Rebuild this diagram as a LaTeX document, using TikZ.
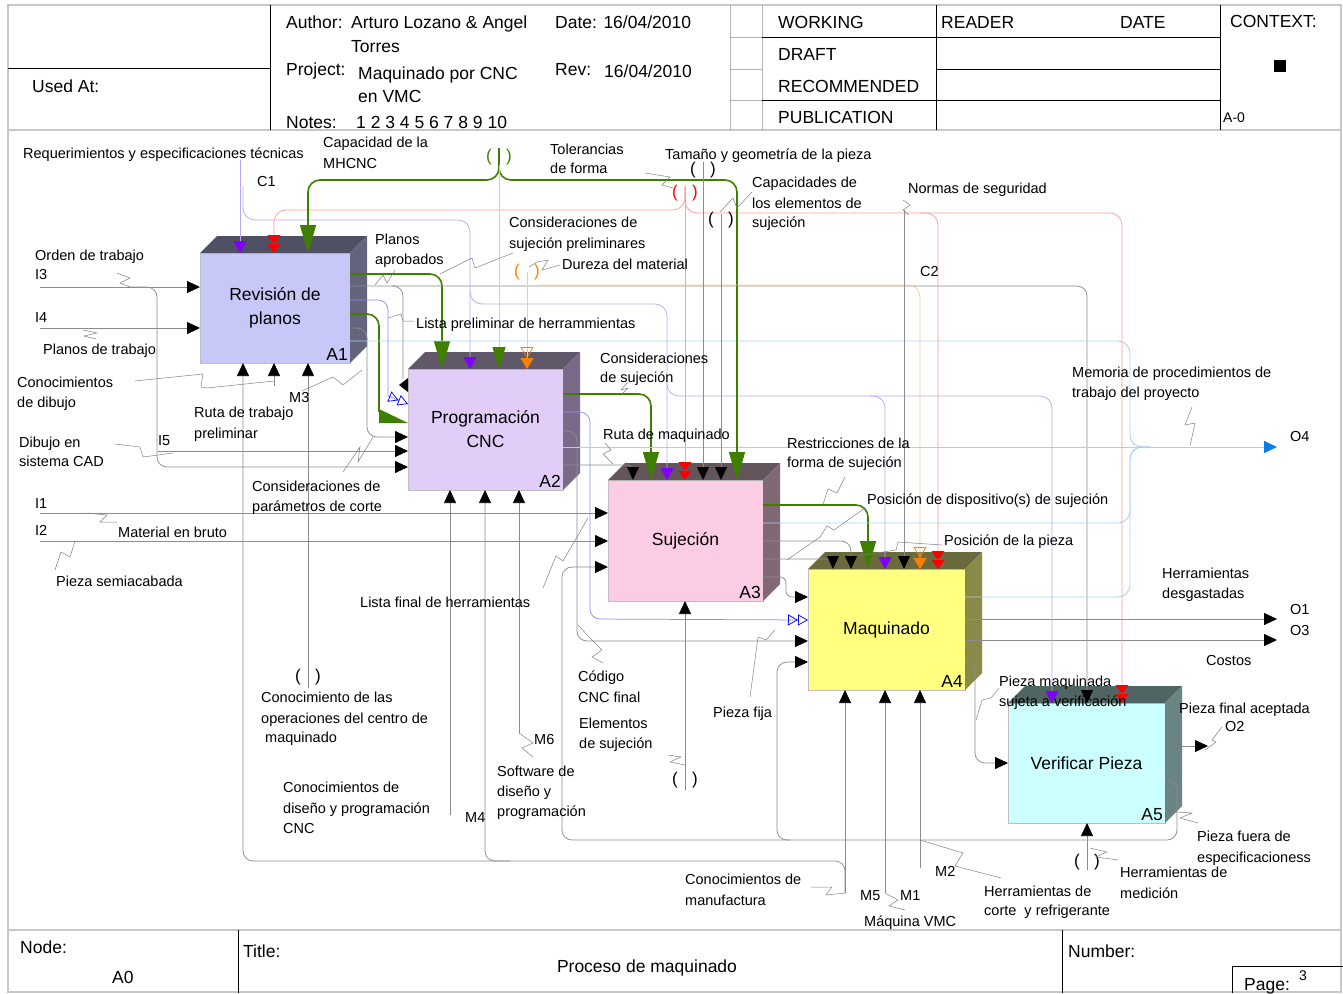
\documentclass[tikz,border=0pt]{standalone}
\usepackage{fontspec}
\setmainfont{Liberation Sans}
\usetikzlibrary{arrows.meta,calc}

\definecolor{gline}{HTML}{8C8C8C}
\definecolor{lav}{HTML}{BFA6F5}
\definecolor{purp}{HTML}{8000FF}
\definecolor{pinkl}{HTML}{FF9C9C}
\definecolor{redA}{HTML}{FF0000}
\definecolor{grn}{HTML}{3F7F00}
\definecolor{grnl}{HTML}{C9D6BC}
\definecolor{orl}{HTML}{FFC890}
\definecolor{orA}{HTML}{FF8000}
\definecolor{blu}{HTML}{8C8CFF}
\definecolor{bluA}{HTML}{0000FF}
\definecolor{lblu}{HTML}{A9D0F5}
\definecolor{oblue}{HTML}{0A7CF0}
\definecolor{frm}{HTML}{C8C8C8}
% box faces: front / top / side
\definecolor{fa}{HTML}{C8C8F8}\definecolor{ta}{HTML}{505064}\definecolor{sa}{HTML}{64647C}
\definecolor{fb}{HTML}{E2CCF8}\definecolor{tbx}{HTML}{605868}\definecolor{sb}{HTML}{7A6A88}
\definecolor{fc}{HTML}{FCCCE4}\definecolor{tc}{HTML}{64545C}\definecolor{sc}{HTML}{806874}
\definecolor{fd}{HTML}{FFFF80}\definecolor{td}{HTML}{6A6A3C}\definecolor{sd}{HTML}{8A8A48}
\definecolor{fe}{HTML}{CCFFFF}\definecolor{te}{HTML}{506464}\definecolor{se}{HTML}{6A8484}

\tikzset{
  lbl/.style={anchor=base west, inner sep=0pt, yshift=-5.2pt, font=\fontsize{14.5}{16}\selectfont},
  hdr/.style={anchor=base west, inner sep=0pt, yshift=-6.3pt, font=\fontsize{17.5}{20}\selectfont},
  boxtxt/.style={font=\fontsize{17.5}{24}\selectfont, align=center, inner sep=0pt},
  face/.style={draw=black!25, line width=0.5pt, inner sep=0pt, outer sep=0pt},
  tun/.style={inner sep=0pt, font=\fontsize{17}{17}\selectfont},
  gl/.style={draw=gline, line width=0.75pt, rounded corners=10pt},
  lv/.style={draw=lav, line width=0.75pt, rounded corners=12pt},
  pk/.style={draw=pinkl, line width=0.75pt, rounded corners=12pt},
  og/.style={draw=orl, line width=0.75pt, rounded corners=12pt},
  bl/.style={draw=blu, line width=0.75pt, rounded corners=10pt},
  lb/.style={draw=lblu, line width=0.9pt, rounded corners=12pt},
  gr/.style={draw=grn, line width=1.6pt, rounded corners=12pt},
  ld/.style={draw=black!50, line width=0.5pt},
  tb/.style={-{Triangle[length=13pt,width=12pt,black]}},
  tbs/.style={{Triangle[length=13pt,width=12pt,black]}-},
  tp/.style={-{Triangle[length=12pt,width=13pt,purp]}},
  tr/.style={-{Triangle[length=9pt,width=13pt,redA]Triangle[length=9pt,width=13pt,redA]}},
  tg/.style={-{Triangle[length=28pt,width=16pt,grn]}},
  tgs/.style={-{Triangle[length=22pt,width=13pt,grn]}},
  tor/.style={-{Triangle[open,length=11pt,width=13pt,orA]Triangle[length=11pt,width=13pt,orA]}},
  tbl/.style={-{Triangle[open,length=10pt,width=11pt,bluA]Triangle[open,length=10pt,width=11pt,bluA]}},
  tob/.style={-{Triangle[length=13pt,width=12pt,oblue]}},
}

% IDEF0 activity box with a shaded top and side
\newcommand{\IdefBox}[9]{%
  \node[face, fill=#6, minimum width=#4, minimum height=#5] (#1) at (#2,#3) {};
  \fill[#7] (#1.north west) -- ++(17,-17) -- ++(#4,0) -- (#1.north east) -- cycle;
  \fill[#8] (#1.north east) -- ++(17,-17) -- ++(0,#5) -- (#1.south east) -- cycle;
  \node[boxtxt] (#1t) at (#1) {#9};
  \node[anchor=south east, inner sep=2pt, font=\fontsize{17.5}{20}\selectfont] (#1n) at (#1.south east) {#1};
}
% tunnelled arrow end "( )"
\newcommand{\Tun}[4]{%
  \node[tun, text=#4] (#1l) at (#2-10,#3) {(};
  \node[tun, text=#4] (#1r) at (#2+10,#3) {)};
}
\newcommand{\Lbl}[4]{\node[lbl] (#1) at (#2,#3) {#4};}
\newcommand{\Hdr}[4]{\node[hdr] (#1) at (#2,#3) {#4};}
\newcommand{\TriD}[3][black]{\fill[#1] (#2-6,#3-13) -- (#2+6,#3-13) -- (#2,#3) -- cycle;}

\begin{document}
\begin{tikzpicture}[x=1pt,y=-1pt]
\useasboundingbox (0,0) rectangle (1343,993);

% ---------- frame ----------
\draw[frm, line width=1.2pt] (8,5) rectangle (1341,992);
\draw[frm, line width=2pt] (8,130) -- (1341,130);
\draw[frm, line width=2pt] (8,930) -- (1341,930);

% ---------- header ----------
\draw[black, line width=0.8pt] (270,5) -- (270,130);
\draw[black, line width=0.8pt] (8,68) -- (270,68);
\draw[black, line width=0.8pt] (936,5) -- (936,130);
\draw[black, line width=0.8pt] (1220,5) -- (1220,130);
\draw[gray!60, line width=0.8pt] (730,5) -- (730,130) (762,5) -- (762,130);
\draw[gray!60, line width=0.8pt] (730,37) -- (762,37) (730,69) -- (762,69) (730,100) -- (762,100);
\draw[black, line width=0.8pt] (762,37) -- (1220,37) (936,69) -- (1220,69) (762,100) -- (1220,100);

\Hdr{usedat}{32}{86}{Used At:}
\Hdr{author}{286}{22}{Author:}
\Hdr{authors}{351}{22}{Arturo Lozano \& Angel}
\Hdr{authors2}{351}{46}{Torres}
\Hdr{project}{286}{69}{Project:}
\Hdr{projname}{358}{73}{Maquinado por CNC}
\Hdr{projname2}{358}{96}{en VMC}
\Hdr{notes}{286}{122}{Notes:}
\Hdr{notenums}{356}{122}{1 2 3 4 5 6 7 8 9 10}
\Hdr{date}{555}{22}{Date: 16/04/2010}
\Hdr{rev}{555}{69}{Rev:}
\Hdr{revdate}{604}{71}{16/04/2010}
\Hdr{working}{778}{22}{WORKING}
\Hdr{draft}{778}{54}{DRAFT}
\Hdr{recommended}{778}{86}{RECOMMENDED}
\Hdr{publication}{778}{117}{PUBLICATION}
\Hdr{reader}{941}{22}{READER}
\Hdr{datecol}{1120}{22}{DATE}
\Hdr{context}{1230}{21}{CONTEXT:}
\fill[black] (1274,60) rectangle (1286,72);
\node[lbl, font=\fontsize{14}{16}\selectfont] (ctxnode) at (1223,117) {A-0};

% ---------- footer ----------
\draw[black, line width=0.8pt] (238,930) -- (238,993);
\draw[black, line width=0.8pt] (1062,930) -- (1062,993);
\draw[black, line width=0.8pt] (1232,993) -- (1232,966) -- (1343,966);
\Hdr{nodelbl}{20}{947}{Node:}
\Hdr{nodeval}{112}{977}{A0}
\Hdr{titlelbl}{243}{951}{Title:}
\node[font=\fontsize{17.5}{20}\selectfont, inner sep=0pt] (titleval) at (647,968) {Proceso de maquinado};
\Hdr{numberlbl}{1068}{951}{Number:}
\Hdr{pagelbl}{1244}{984}{Page:}
\node[lbl, font=\fontsize{14}{16}\selectfont] (pagenum) at (1299,975) {3};

% ---------- activity boxes ----------
\IdefBox{A1}{275}{308}{150}{110}{fa}{ta}{sa}{Revisión de\\planos}
\IdefBox{A2}{485.5}{429.5}{155}{121}{fb}{tbx}{sb}{Programación\\CNC}
\IdefBox{A3}{685.5}{540.5}{155}{121}{fc}{tc}{sc}{Sujeción}
\IdefBox{A4}{886.5}{629.5}{157}{121}{fd}{td}{sd}{Maquinado}
\IdefBox{A5}{1086.5}{763}{157}{120}{fe}{te}{se}{Verificar Pieza}

% ---------- inputs ----------
\draw[gl,tb] (40,287) -- (A1.west |- 0,287);
\draw[gl,tb] (128,287) -- (157,287) -- (157,467) -- (A2.west |- 0,467);
\draw[gl,tb] (40,328) -- (A1.west |- 0,328);
\draw[gl,tb] (158,451) -- (A2.west |- 0,451);
\draw[gl,tb] (40,513) -- (A3.west |- 0,513);
\draw[gl,tb] (40,541) -- (A3.west |- 0,541);

% ---------- outputs of A1 ----------
\draw[gr,tg] (A1.east |- 0,274) -- (442,274) -- (A2.north -| 442,0);
\draw[gl,tb] (A1.east |- 0,286) -- (1087,286) -- (A5.north -| 1087,0);
\draw[gl] (392,286) -- (403,286) -- (403,379);
\fill[black] (399,385) -- (408,378) -- (408,392) -- cycle;
\draw[bl] (A1.east |- 0,300) -- (388,300) -- (388,396);
\draw[bl,tbl,sharp corners] (388,396) -- (A2.west |- 0,404);
\draw[gr] (A1.east |- 0,314) -- (379,314) -- (379,412);
\fill[grn] (379,409) -- (A2.west |- 0,423) -- (379,423) -- cycle;
\draw[gl,tb] (A1.east |- 0,328) -- (367,328) -- (367,437) -- (A2.west |- 0,437);
\draw[lb] (A1.east |- 0,341) -- (1130,341) -- (1130,447) -- (1150,447);

% ---------- outputs of A2 ----------
\draw[gr,tg] (A2.east |- 0,394) -- (651,394) -- (A3.north -| 651,0);
\draw[bl,tbl] (A2.east |- 0,412) -- (590,412) -- (590,619) -- (A4.west |- 0,620);
\draw[gl,tb] (A2.east |- 0,431) -- (577,431) -- (577,641) -- (A4.west |- 0,641);
\draw[lb,tob] (A2.east |- 0,447) -- (1277,447);
\draw[gl,rounded corners=6pt] (A2.east |- 0,465) -- (633,465) -- (633,470);
\TriD{633}{480}

% ---------- outputs of A3 ----------
\draw[gr,tg] (A3.east |- 0,505) -- (868,505) -- (A4.north -| 868,0);
\draw[lb] (A3.east |- 0,523) -- (1130,523) -- (1130,447) -- (1150,447);
\draw[gl,tb] (A3.east |- 0,541) -- (851,541) -- (A4.north -| 851,0);
\draw[gl,rounded corners=4pt] (A3.east |- 0,559) -- (833,559) -- (833,561);
\TriD{833}{569}
\draw[gl,tb,rounded corners=6pt] (A3.east |- 0,577) -- (786,577) -- (786,597) -- (A4.west |- 0,597);

% ---------- outputs of A4 ----------
\draw[lb] (A4.east |- 0,597) -- (1130,597) -- (1130,447) -- (1150,447);
\draw[gl,tb] (A4.east |- 0,619) -- (1277,619);
\draw[gl,tb] (A4.east |- 0,640) -- (1277,640);
\draw[gl,tb] (A4.east |- 0,661) -- (975,661) -- (975,763) -- (A5.west |- 0,763);

% ---------- outputs of A5 ----------
\draw[gl,tb] ($(A5.east |- 0,746)+(17,0)$) -- (1208,746);
\draw[gl,tb] (A5.east |- 0,780) -- (1177,780) -- (1177,840) -- (562,840) -- (562,567) -- (A3.west |- 0,567);
\draw[gl,tb] (790,840) -- (777,840) -- (777,662) -- (A4.west |- 0,662);

% ---------- controls ----------
\draw[lv,tp] (240,160) -- (A1.north -| 240,0);
\draw[lv,tp] (243,186) -- (243,220) -- (470,220) -- (A2.north -| 470,0);
\draw[lv,tp] (470,290) -- (470,304) -- (667,304) -- (A3.north -| 667,0);
\draw[lv,tp] (667,382) -- (667,396) -- (1052,396) -- (A5.north -| 1052,0);
\draw[lv,tp] (870,396) -- (885,396) -- (A4.north -| 885,0);

\draw[pk,tr] (685,186) -- (685,210) -- (274,210) -- (A1.north -| 274,0);
\draw[pk,tr] (685,186) -- (A3.north -| 685,0);
\draw[pk,tr] (685,186) -- (685,213) -- (938,213) -- (A4.north -| 938,0);
\draw[pk,tr] (920,213) -- (1122,213) -- (A5.north -| 1122,0);

\draw[gr,tg] (499,148) -- (499,180) -- (308,180) -- (A1.north -| 308,0);
\draw[gr,tg] (499,148) -- (499,180) -- (737,180) -- (A3.north -| 737,0);
\draw[draw=grnl, line width=0.8pt, tgs] (499,165) -- (A2.north -| 499,0);

\draw[og,tor] (527,272) -- (A2.north -| 527,0);
\draw[og,tor] (538,285) -- (920,285) -- (A4.north -| 920,0);

\draw[gl,tb] (703,162) -- (A3.north -| 703,0);
\draw[gl,tb] (721,214) -- (A3.north -| 721,0);
\draw[gl,tb] (904,210) -- (A4.north -| 904,0);

% ---------- mechanisms ----------
\draw[gl,tbs] (A1.south -| 243,0) -- (243,861) -- (845,861) -- (845,893);
\draw[gl,tb] (845,893) -- (A4.south -| 845,0);
\draw[gl,tb] (510,861) -- (485,861) -- (A2.south -| 485,0);
\draw[gl,tb] (274,386) -- (A1.south -| 274,0);
\draw[gl,tb] (308,688) -- (A1.south -| 308,0);
\draw[gl,tb] (450,815) -- (A2.south -| 450,0);
\draw[gl,tb] (519,733) -- (A2.south -| 519,0);
\draw[gl,tb] (685,790) -- (A3.south -| 685,0);
\draw[gl,tb] (885,893) -- (A4.south -| 885,0);
\draw[gl,tb] (920,868) -- (A4.south -| 920,0);
\draw[gl,tb] (1087,870) -- (A5.south -| 1087,0);

% ---------- tunnels ----------
\Tun{tgreen}{499}{157}{grn}
\Tun{tred}{685}{193}{redA}
\Tun{tsize}{703}{170}{black}
\Tun{tcap}{721}{220}{black}
\Tun{torange}{527}{272}{orA}
\Tun{tops}{308}{677}{black}
\Tun{telem}{685}{780}{black}
\Tun{tmeas}{1087}{862}{black}

% ---------- label leaders ----------
\draw[ld] (117,273) -- (130,278) -- (120,283) -- (130,287);
\draw[ld] (83,330) -- (97,333) -- (84,336) -- (96,339);
\draw[ld] (135,381) -- (203,374) -- (201,387) -- (207,388) -- (274,381);
\draw[ld] (302,391) -- (333,377) -- (343,385) -- (362,370);
\draw[ld] (375,285) -- (383,275) -- (387,283) -- (395,270);
\draw[ld] (414,321) -- (403,321) -- (401,314) -- (388,318);
\draw[ld] (513,253) -- (475,268) -- (472,258) -- (440,274);
\draw[ld] (560,265) -- (542,270) -- (548,260) -- (537,262) -- (529,267);
\draw[ld] (645,173) -- (670,177) -- (662,185) -- (673,188);
\draw[ld] (752,192) -- (737,208) -- (733,198) -- (720,212);
\draw[ld] (903,200) -- (910,205) -- (903,210) -- (909,215);
\draw[ld] (1192,407) -- (1185,425) -- (1195,423) -- (1190,446);
\draw[ld] (628,382) -- (621,390) -- (628,388) -- (622,394);
\draw[ld] (605,443) -- (611,450) -- (603,454) -- (613,464);
\draw[ld] (845,477) -- (837,493) -- (828,489) -- (823,504);
\draw[ld] (865,508) -- (834,530) -- (827,526) -- (820,537) -- (787,560);
\draw[ld] (942,545) -- (898,542) -- (896,550) -- (857,556);
\draw[ld] (543,588) -- (556,556) -- (563,561) -- (588,518);
\draw[ld] (343,472) -- (360,447) -- (358,462) -- (373,437);
\draw[ld] (115,444) -- (140,447) -- (143,457) -- (173,453);
\draw[ld] (87,513) -- (107,515) -- (100,522) -- (117,522);
\draw[ld] (75,541) -- (70,557) -- (61,552) -- (55,570);
\draw[ld] (578,625) -- (590,638) -- (602,650) -- (592,657) -- (603,663);
\draw[ld] (519,733) -- (533,743) -- (522,748) -- (533,757);
\draw[ld] (668,755) -- (681,757) -- (670,762) -- (685,765);
\draw[ld] (750,697) -- (758,637) -- (766,640) -- (775,630);
\draw[ld] (976,720) -- (982,700) -- (991,698) -- (999,688);
\draw[ld] (1222,727) -- (1212,740) -- (1216,742) -- (1205,750);
\draw[ld] (1198,823) -- (1180,818) -- (1192,813) -- (1176,812);
\draw[ld] (1090,848) -- (1107,852) -- (1096,857) -- (1118,860);
\draw[ld] (920,840) -- (963,853) -- (955,866) -- (1001,878);
\draw[ld] (885,893) -- (898,900) -- (889,906) -- (905,910);
\draw[ld] (811,887) -- (832,887) -- (826,895) -- (845,893);

% ---------- labels ----------
\Lbl{l1}{23}{153}{Requerimientos y especificaciones técnicas}
\Lbl{l2}{323}{142}{Capacidad de la}
\Lbl{l3}{323}{163}{MHCNC}
\Lbl{l4}{257}{181}{C1}
\Lbl{l5}{550}{149}{Tolerancias}
\Lbl{l6}{550}{168}{de forma}
\Lbl{l7}{665}{154}{Tamaño y geometría de la pieza}
\Lbl{l8}{752}{182}{Capacidades de}
\Lbl{l9}{752}{203}{los elementos de}
\Lbl{l10}{752}{222}{sujeción}
\Lbl{l11}{908}{188}{Normas de seguridad}
\Lbl{l12}{509}{222}{Consideraciones de}
\Lbl{l13}{509}{243}{sujeción preliminares}
\Lbl{l14}{562}{264}{Dureza del material}
\Lbl{l15}{920}{271}{C2}
\Lbl{l16}{35}{255}{Orden de trabajo}
\Lbl{l17}{35}{274}{I3}
\Lbl{l18}{375}{239}{Planos}
\Lbl{l19}{375}{259}{aprobados}
\Lbl{l20}{35}{317}{I4}
\Lbl{l21}{416}{323}{Lista preliminar de herrammientas}
\Lbl{l22}{43}{349}{Planos de trabajo}
\Lbl{l23}{17}{382}{Conocimientos}
\Lbl{l24}{17}{402}{de dibujo}
\Lbl{l25}{289}{397}{M3}
\Lbl{l26}{194}{412}{Ruta de trabajo}
\Lbl{l27}{194}{433}{preliminar}
\Lbl{l28}{600}{358}{Consideraciones}
\Lbl{l29}{600}{377}{de sujeción}
\Lbl{l30}{1072}{372}{Memoria de procedimientos de}
\Lbl{l31}{1072}{392}{trabajo del proyecto}
\Lbl{l32}{19}{442}{Dibujo en}
\Lbl{l33}{19}{461}{sistema CAD}
\Lbl{l34}{158}{440}{I5}
\Lbl{l35}{603}{434}{Ruta de maquinado}
\Lbl{l36}{787}{443}{Restricciones de la}
\Lbl{l37}{787}{462}{forma de sujeción}
\Lbl{l38}{1290}{436}{O4}
\Lbl{l39}{252}{486}{Consideraciones de}
\Lbl{l40}{252}{506}{parámetros de corte}
\Lbl{l41}{35}{503}{I1}
\Lbl{l42}{867}{499}{Posición de dispositivo(s) de sujeción}
\Lbl{l43}{35}{530}{I2}
\Lbl{l44}{118}{532}{Material en bruto}
\Lbl{l45}{944}{540}{Posición de la pieza}
\Lbl{l46}{56}{581}{Pieza semiacabada}
\Lbl{l47}{1162}{573}{Herramientas}
\Lbl{l48}{1162}{593}{desgastadas}
\Lbl{l49}{360}{602}{Lista final de herramientas}
\Lbl{l50}{1290}{609}{O1}
\Lbl{l51}{1290}{630}{O3}
\Lbl{l52}{1206}{660}{Costos}
\Lbl{l53}{578}{676}{Código}
\Lbl{l54}{578}{697}{CNC final}
\Lbl{l55}{999}{681}{Pieza maquinada}
\Lbl{l56}{999}{701}{sujeta a verificación}
\Lbl{l57}{261}{697}{Conocimiento de las}
\Lbl{l58}{261}{718}{operaciones del centro de}
\Lbl{l59}{265}{737}{maquinado}
\Lbl{l60}{579}{723}{Elementos}
\Lbl{l61}{579}{743}{de sujeción}
\Lbl{l62}{713}{712}{Pieza fija}
\Lbl{l63}{1179}{708}{Pieza final aceptada}
\Lbl{l64}{1225}{726}{O2}
\Lbl{l65}{534}{739}{M6}
\Lbl{l66}{497}{771}{Software de}
\Lbl{l67}{497}{791}{diseño y}
\Lbl{l68}{497}{811}{programación}
\Lbl{l69}{283}{787}{Conocimientos de}
\Lbl{l70}{283}{808}{diseño y programación}
\Lbl{l71}{283}{828}{CNC}
\Lbl{l72}{465}{817}{M4}
\Lbl{l73}{1197}{836}{Pieza fuera de}
\Lbl{l74}{1197}{857}{especificacioness}
\Lbl{l75}{935}{871}{M2}
\Lbl{l76}{1120}{872}{Herramientas de}
\Lbl{l77}{1120}{893}{medición}
\Lbl{l78}{685}{879}{Conocimientos de}
\Lbl{l79}{685}{900}{manufactura}
\Lbl{l80}{860}{895}{M5}
\Lbl{l81}{900}{895}{M1}
\Lbl{l82}{984}{891}{Herramientas de}
\Lbl{l83}{984}{910}{corte \ y refrigerante}
\Lbl{l84}{864}{921}{Máquina VMC}
\end{tikzpicture}
\end{document}
